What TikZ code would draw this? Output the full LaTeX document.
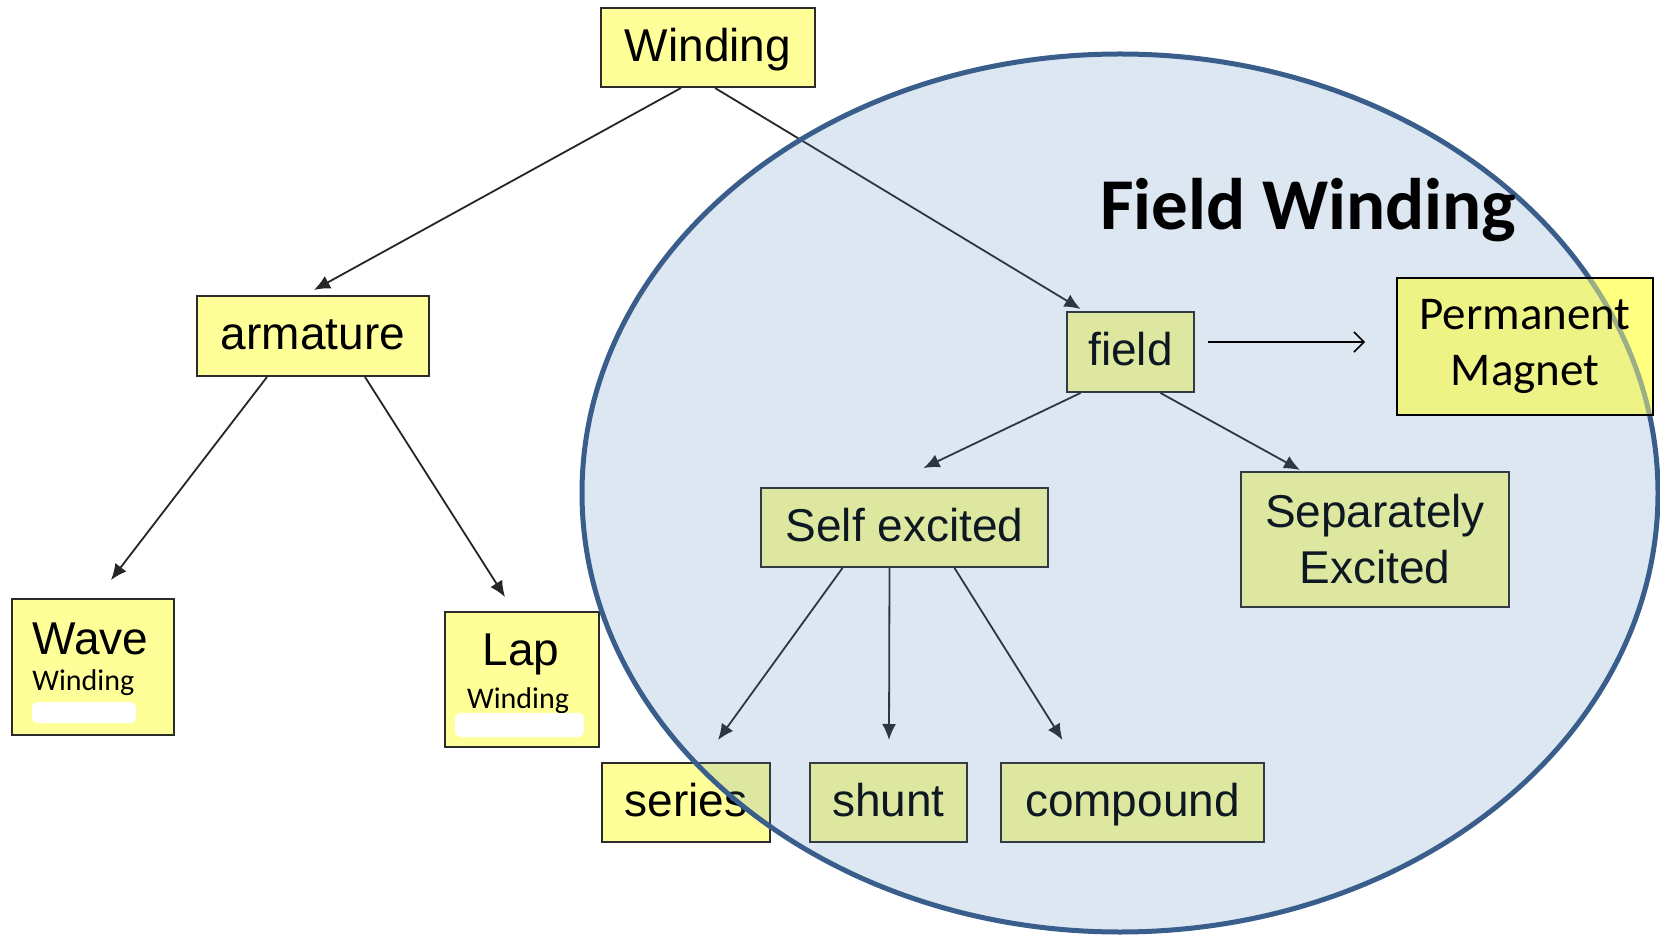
\documentclass[tikz,border=0pt]{standalone}
\usepackage{fontspec}
\setmainfont{Liberation Sans}
\newfontfamily\calibri{Carlito}
\usetikzlibrary{arrows.meta,calc}

\definecolor{boxyellow}{HTML}{FFFF99}
\definecolor{pmyellow}{HTML}{FFFF80}
\definecolor{boxline}{HTML}{2B2B2B}
\definecolor{ringblue}{HTML}{3A5E8C}
\definecolor{ringfill}{HTML}{4F81BD}

\begin{document}
\begin{tikzpicture}[x=0.5pt,y=-0.5pt,
  box/.style={draw=boxline, fill=boxyellow, line width=1pt, inner sep=0pt,
    font=\fontsize{23}{28}\selectfont, align=center},
  oneline/.style={text height=17pt, text depth=3pt},
  boxtext/.style={inner sep=0pt, font=\fontsize{23}{28}\selectfont},
  smalltext/.style={inner sep=0pt, font=\calibri\fontsize{15}{18}\selectfont},
  arr/.style={draw=black!85, line width=0.9pt, -{Latex[length=8pt,width=7pt]}},
  smudge/.style={fill=white, rounded corners=3pt},
]
\useasboundingbox (0,0) rectangle (1660,935);
\fill[white] (0,0) rectangle (1660,935);

% backing of the magnet box, tinted by the ring
\node[fill=pmyellow, inner sep=0pt, minimum width=128pt, minimum height=68.5pt] (pmbg) at (1525,346.5) {};

% tree boxes
\node[box, oneline, minimum width=107pt, minimum height=39.5pt] (win) at (708,47.5) {Winding};
\node[box, oneline, minimum width=116pt, minimum height=40pt] (arm) at (313,336) {armature};
\node[box, oneline, minimum width=63.5pt, minimum height=40pt] (fld) at (1130.5,352) {field};
\node[box, oneline, minimum width=143.5pt, minimum height=39.5pt] (self) at (904.5,527.5) {Self excited};
\node[box, minimum width=134pt, minimum height=67.5pt] (sep) at (1375,539.5) {Separately\\Excited};
\node[box, minimum width=81pt, minimum height=68pt] (wave) at (93,667) {};
\node[box, minimum width=77pt, minimum height=67.5pt] (lap) at (522,679.5) {};
\node[box, oneline, minimum width=84pt, minimum height=39.5pt] (ser) at (686,802.5) {series};
\node[box, oneline, minimum width=78.5pt, minimum height=39.5pt] (shu) at (888.5,802.5) {shunt};
\node[box, oneline, minimum width=131.5pt, minimum height=39.5pt] (cmp) at (1132.5,802.5) {compound};

% labels of the two armature windings
\node[boxtext, anchor=base west] (wavet) at (32,654) {Wave};
\node[smalltext, anchor=base west] (wavew) at (32,690) {Winding};
\fill[smudge] (32,702) rectangle (136,723);
\node[boxtext, anchor=base] (lapt) at (521,665) {Lap};
\node[smalltext, anchor=base] (lapw) at (518,708) {Winding};
\fill[smudge] (455,713) rectangle (584,737);

% connectors
\draw[arr] ($(win.south)+(-27,0)$) -- ($(arm.north)+(1,-5)$);
\draw[arr] ($(win.south)+(7,0)$) -- ($(fld.north)+(-50,-2)$);
\draw[arr] ($(arm.south)+(-46,0)$) -- ($(wave.north)+(18,-18)$);
\draw[arr] ($(arm.south)+(52,0)$) -- ($(lap.north)+(-17,-14)$);
\draw[arr] ($(fld.south)+(-50,0)$) -- ($(self.north)+(19,-19)$);
\draw[arr] ($(fld.south)+(30,0)$) -- ($(sep.north)+(-75,-1)$);
\draw[arr] ($(self.south)+(-62,0)$) -- ($(ser.north)+(32,-22)$);
\draw[arr] ($(self.south)+(-15,0)$) -- ($(shu.north)+(0.5,-22)$);
\draw[arr] ($(self.south)+(50,0)$) -- ($(cmp.north)+(-70,-22)$);

% the field-winding ring
\fill[ringfill, fill opacity=0.19] (1120,493) ellipse [x radius=269pt, y radius=219.5pt];
\draw[ringblue, line width=2.5pt] (1120,493) ellipse [x radius=269pt, y radius=219.5pt];

% magnet box over the ring
\node[draw=black, line width=1pt, fill=pmyellow, fill opacity=0.5, text opacity=1,
  inner sep=0pt, minimum width=128pt, minimum height=68.5pt, align=center,
  font=\calibri\fontsize{23.5}{28}\selectfont] (pm) at (pmbg) {Permanent\\Magnet};
\draw[black, line width=0.8pt, -{Straight Barb[length=5pt,width=10pt]}]
  ($(fld.east)+(13,-10)$) -- ($(pm.west)+(-31,-4.5)$);

\node[inner sep=0pt, anchor=base west, font=\calibri\bfseries\fontsize{36.5}{40}\selectfont]
  (title) at (1100,230) {Field Winding};
\end{tikzpicture}
\end{document}
